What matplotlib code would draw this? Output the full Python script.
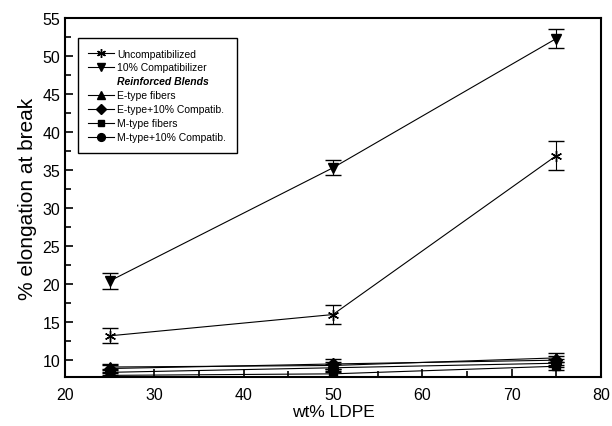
import numpy as np
import matplotlib.pyplot as plt
from matplotlib.lines import Line2D
from matplotlib.ticker import MultipleLocator

plt.rcParams['font.family'] = ['Liberation Sans', 'DejaVu Sans']

# ---------------- data ----------------
ldpe = [25, 50, 75]

uncomp = [13.2, 16.0, 36.9]
uncomp_err = [1.0, 1.3, 1.9]

comp10 = [20.4, 35.3, 52.3]
comp10_err = [1.0, 1.0, 1.3]

e_type = [9.1, 9.3, 10.3]
e_type_err = [0.4, 0.5, 0.6]

e_type_comp = [8.9, 9.5, 10.0]
e_type_comp_err = [0.4, 0.6, 0.6]

m_type = [8.0, 8.2, 9.2]
m_type_err = [0.3, 0.4, 0.5]

m_type_comp = [8.4, 9.0, 9.6]
m_type_comp_err = [0.4, 0.5, 0.5]

series = [
    ("Uncompatibilized", uncomp, uncomp_err, "*"),
    ("10% Compatibilizer", comp10, comp10_err, "v"),
    ("E-type fibers", e_type, e_type_err, "^"),
    ("E-type+10% Compatib.", e_type_comp, e_type_comp_err, "D"),
    ("M-type fibers", m_type, m_type_err, "s"),
    ("M-type+10% Compatib.", m_type_comp, m_type_comp_err, "o"),
]

# ---------------- plot ----------------
fig = plt.figure(figsize=(6.12, 4.27), dpi=100)
ax = fig.add_axes([0.106, 0.115, 0.876, 0.8405])

handles = {}
for name, y, err, mk in series:
    ms = 6 if mk in ("D", "s") else 7
    if mk == "*":
        # asterisk: 6-point line star
        ax.errorbar(ldpe, y, yerr=err, color="black", linewidth=0.8,
                    marker=(6, 2, 0), markersize=8, mew=1.0, capsize=6,
                    capthick=1.0, elinewidth=0.8)
        h = Line2D([], [], color="black", lw=0.8, marker=(6, 2, 0),
                   markersize=8, mew=1.0)
    else:
        ax.errorbar(ldpe, y, yerr=err, color="black", linewidth=0.8,
                    marker=mk, markersize=ms, mfc="black", mec="black",
                    capsize=6, capthick=1.0, elinewidth=0.8)
        h = Line2D([], [], color="black", lw=0.8, marker=mk,
                   markersize=ms, mfc="black", mec="black")
    handles[name] = h

ax.set_xlim(20, 80)
ax.set_ylim(7.8, 55)
ax.xaxis.set_major_locator(MultipleLocator(10))
ax.xaxis.set_minor_locator(MultipleLocator(5))
ax.yaxis.set_major_locator(MultipleLocator(5))
ax.yaxis.set_minor_locator(MultipleLocator(2.5))
ax.tick_params(which="both", direction="in", width=1.2, labelsize=11.5)
ax.tick_params(which="major", length=6)
ax.tick_params(which="minor", length=4)
ax.tick_params(axis="x", pad=7)
for s in ax.spines.values():
    s.set_linewidth(1.5)

ax.set_xlabel("wt% LDPE", fontsize=12.5, labelpad=2)
ax.set_ylabel("% elongation at break", fontsize=15, labelpad=4)

blank = Line2D([], [], linestyle="none")
leg_handles = [handles["Uncompatibilized"], handles["10% Compatibilizer"], blank,
               handles["E-type fibers"], handles["E-type+10% Compatib."],
               handles["M-type fibers"], handles["M-type+10% Compatib."]]
leg_labels = ["Uncompatibilized", "10% Compatibilizer", "Reinforced Blends",
              "E-type fibers", "E-type+10% Compatib.",
              "M-type fibers", "M-type+10% Compatib."]
leg = ax.legend(leg_handles, leg_labels, loc="upper left",
                bbox_to_anchor=(0.024, 0.944), borderaxespad=0,
                fontsize=7.5, fancybox=False,
                edgecolor="black", framealpha=1, handlelength=2.5,
                borderpad=1.0, labelspacing=0.38, handletextpad=0.3,
                markerscale=0.8)
leg.get_frame().set_linewidth(1.0)
leg.get_texts()[2].set_fontweight("bold")
leg.get_texts()[2].set_fontstyle("italic")

fig.savefig("out.png", dpi=100)
